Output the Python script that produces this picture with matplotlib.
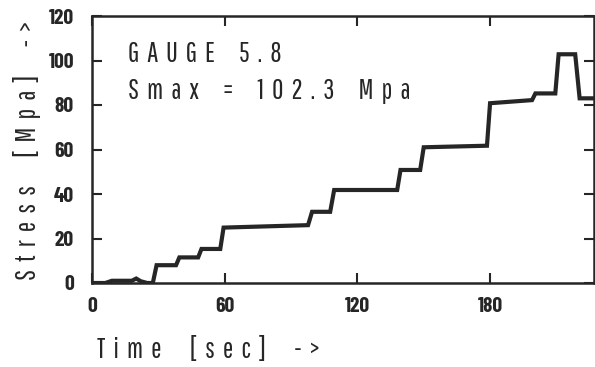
import matplotlib
matplotlib.use("Agg")
import matplotlib.pyplot as plt

time_s = [0, 6, 9, 18, 20, 22, 25, 27.5, 29.2, 38, 39.5, 48, 49.5, 58, 59.5,
          97.7, 99.5, 107.7, 109.5, 138, 139.5, 148.4, 150, 178.6, 180,
          199, 200.5, 209.5, 211, 218.5, 220.5, 227]
stress = [0, 0, 1, 1, 2, 0.8, 0, 0, 8, 8, 11.5, 11.5, 15.3, 15.3, 24.9,
          26, 32, 32, 41.8, 41.8, 50.8, 50.8, 61, 61.7, 80.8,
          82.2, 85.2, 85.2, 102.8, 102.8, 83, 83]

x_ticks = [0, 60, 120, 180]
y_ticks = [0, 20, 40, 60, 80, 100, 120]

gauge_words = ["GAUGE", "5.8"]
smax_words = ["Smax", "=", "102.3", "Mpa"]
ylabel_words = ["Stress", "[Mpa]", "->"]
xlabel_words = ["Time", "[sec]", "->"]

TEXT_FONT = ['Pathway Gothic One', 'DejaVu Sans']
TICK_FONT = ['Barlow Condensed', 'DejaVu Sans']
INK = '#262626'


def spaced(words, inner=2, outer=7):
    return (' ' * outer).join((' ' * inner).join(w) for w in words)


fig = plt.figure(figsize=(5.95, 3.67), dpi=100)
ax = fig.add_axes([92/595, 84/367, 502/595, 267/367])
ax.plot(time_s, stress, color=INK, lw=3.0, solid_joinstyle='miter')
ax.set_xlim(0, 227)
ax.set_ylim(0, 120)
ax.set_xticks(x_ticks)
ax.set_yticks(y_ticks)
ax.tick_params(direction='in', length=7, width=1.5, top=True, right=True,
               colors=INK)
ax.tick_params(axis='x', pad=10)
ax.tick_params(axis='y', pad=13)
for lab in ax.get_xticklabels() + ax.get_yticklabels():
    lab.set_family(TICK_FONT)
    lab.set_fontsize(15.5)
    lab.set_fontweight('bold')
for s in ax.spines.values():
    s.set_linewidth(1.8)
    s.set_color(INK)

ax.text(36/502, 1 - 38/267, spaced(gauge_words, outer=6), transform=ax.transAxes,
        fontsize=20, color=INK, va='center', ha='left', family=TEXT_FONT)
ax.text(36/502, 1 - 75/267, spaced(smax_words, outer=6), transform=ax.transAxes,
        fontsize=20, color=INK, va='center', ha='left', family=TEXT_FONT)

fig.text(27/595, 1 - 150/367, spaced(ylabel_words), rotation=90,
         fontsize=20, color=INK, va='center', ha='center', family=TEXT_FONT)
fig.text(97/595, 1 - 350/367, spaced(xlabel_words),
         fontsize=20, color=INK, va='center', ha='left', family=TEXT_FONT)

fig.savefig("out.png", dpi=100)
